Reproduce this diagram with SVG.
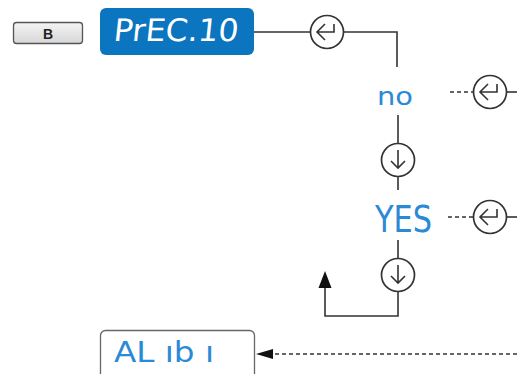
<svg xmlns="http://www.w3.org/2000/svg" width="517" height="374" viewBox="0 0 517 374">
<defs>
<style>
.ln{fill:none;stroke:#333;stroke-width:1.6}
.ds{fill:none;stroke:#333;stroke-width:1.6;stroke-dasharray:4 3}
.cir{fill:#fff;stroke:#333;stroke-width:1.7}
.ic{fill:none;stroke:#333;stroke-width:1.6;stroke-linejoin:miter}
.seg{font-family:"DejaVu Sans Condensed","DejaVu Sans",sans-serif;fill:#2b8ad6}
.segw{font-family:"DejaVu Sans Condensed","DejaVu Sans",sans-serif;fill:#fff}
</style>
<linearGradient id="btn" x1="0" y1="0" x2="0" y2="1">
<stop offset="0" stop-color="#f4f4f4"/><stop offset="1" stop-color="#d6d6d6"/>
</linearGradient>
<g id="enter"><circle class="cir" r="16.5"/><path class="ic" d="M-2,-8 L-10,0 L-2,8 M-10,0 H7 V-8"/></g>
<g id="down"><circle class="cir" r="16.5"/><path class="ic" d="M0,-10 V8 M-7,1 L0,8 L7,1"/></g>
</defs>
<rect width="517" height="374" fill="#fff"/>

<g id="connectors">
<path class="ln" d="M253,32 H311 M343,32 H397 V67"/>
<path class="ln" d="M398,115 V144 M398,176 V190"/>
<path class="ln" d="M398,240 V259 M398,291 V316 H325 V286"/>
<path d="M325,271 L318.5,288 L331.5,288 Z" fill="#111"/>
<path class="ds" d="M450,92 H474"/>
<path class="ln" d="M506,92 H517"/>
<path class="ds" d="M448,217 H474"/>
<path class="ln" d="M506,217 H517"/>
<path class="ds" d="M517,354 H271"/>
<path d="M256,354 L273,349 L273,359 Z" fill="#111"/>
</g>

<g id="btnB">
<rect x="13.5" y="22.5" width="69" height="21" rx="3" fill="url(#btn)" stroke="#555" stroke-width="1.3"/>
<text x="48" y="38.5" font-family="Liberation Sans,Arial,sans-serif" font-weight="bold" font-size="14" text-anchor="middle" fill="#222">B</text>
</g>

<g id="prec">
<rect x="100" y="8" width="154" height="47" rx="6" fill="#0b75c0"/>
<text class="segw" x="113" y="41" font-size="31" textLength="125" lengthAdjust="spacingAndGlyphs" transform="skewX(-6) translate(4,0)">PrEC.10</text>
</g>

<g id="enter1"><use href="#enter" x="327" y="32"/></g>

<g id="no"><text class="seg" x="377" y="105" font-size="24" textLength="36" lengthAdjust="spacingAndGlyphs">no</text></g>
<g id="enterNo"><use href="#enter" x="490" y="92"/></g>
<g id="down1"><use href="#down" x="398" y="160"/></g>

<g id="yes"><text class="seg" x="375" y="232" font-size="37" textLength="57" lengthAdjust="spacingAndGlyphs">YES</text></g>
<g id="enterYes"><use href="#enter" x="490" y="217"/></g>
<g id="down2"><use href="#down" x="398" y="275"/></g>

<g id="alibi">
<rect x="100.5" y="330.5" width="154" height="55" rx="5" fill="#fff" stroke="#666" stroke-width="1.3"/>
<text class="seg" x="114" y="362" font-size="28" textLength="100" lengthAdjust="spacingAndGlyphs" xml:space="preserve">AL ıb ı</text>
</g>
</svg>
